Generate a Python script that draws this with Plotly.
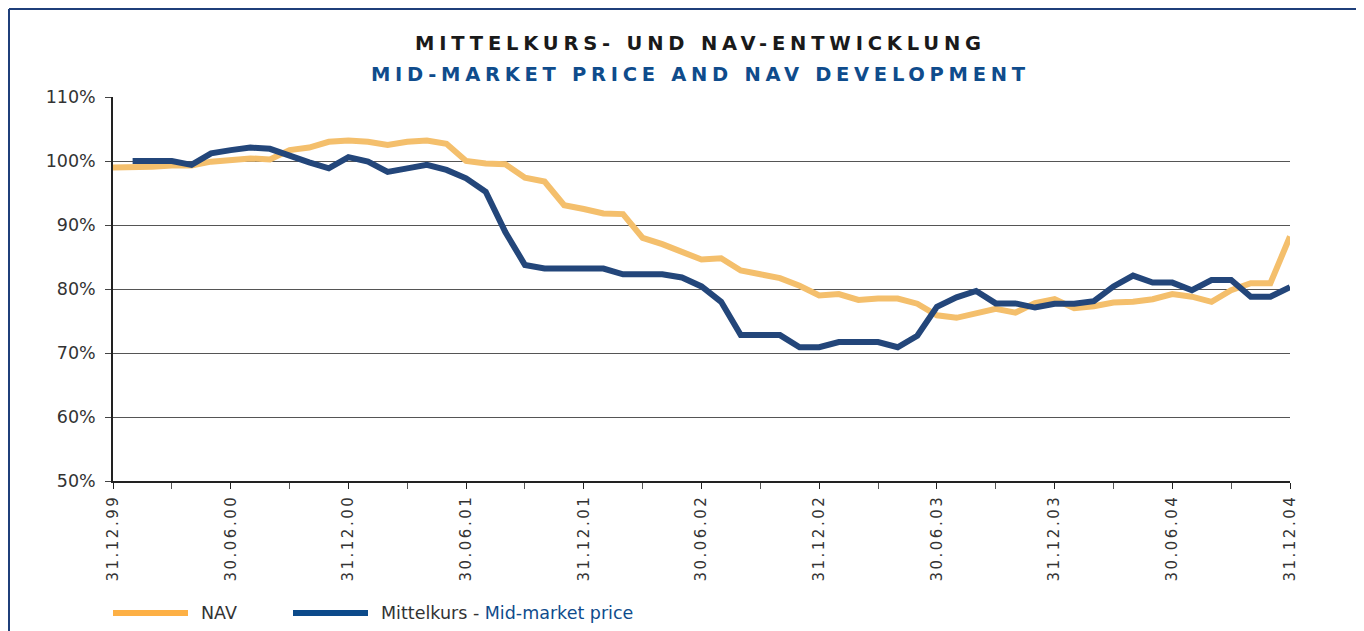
import plotly.graph_objects as go
import pandas as pd

# ---- data (month-end observations, % of start value) ----
month_labels = [d.strftime("%d.%m.%y") for d in pd.date_range("1999-12-31", "2004-12-31", freq="ME")]

nav = [99.0, 99.0, 99.1, 99.3, 99.3, 99.9, 100.2, 100.4, 100.25, 101.7,
       102.1, 103.0, 103.2, 103.0, 102.5, 103.0, 103.2, 102.7, 100.0, 99.6,
       99.5, 97.4, 96.8, 93.1, 92.5, 91.8, 91.7, 88.0, 87.0, 85.9,
       84.6, 84.8, 82.9, 82.3, 81.7, 80.5, 79.0, 79.2, 78.3, 78.5,
       78.5, 77.7, 75.9, 75.5, 76.2, 76.9, 76.3, 77.8, 78.4, 77.0,
       77.3, 77.9, 78.0, 78.4, 79.2, 78.8, 78.0, 79.8, 80.9, 80.9,
       88.2]

mid_price = [None, 100.0, 100.0, 100.0, 99.4, 101.2, 101.7, 102.1, 101.9, 100.8,
             99.8, 98.85, 100.6, 99.9, 98.3, 98.85, 99.4, 98.6, 97.3, 95.2,
             88.9, 83.75, 83.2, 83.2, 83.2, 83.2, 82.3, 82.3, 82.3, 81.8,
             80.4, 78.0, 72.8, 72.8, 72.8, 70.9, 70.9, 71.7, 71.7, 71.7,
             70.9, 72.7, 77.2, 78.7, 79.7, 77.75, 77.75, 77.1, 77.7, 77.7,
             78.1, 80.4, 82.1, 81.0, 81.0, 79.8, 81.4, 81.4, 78.8, 78.8,
             80.3]

y_ticks = [50, 60, 70, 80, 90, 100, 110]
y_tick_labels = ["50%", "60%", "70%", "80%", "90%", "100%", "110%"]

title_de = "MITTELKURS- UND NAV-ENTWICKLUNG"
title_en = "MID-MARKET PRICE AND NAV DEVELOPMENT"

NAV_COLOR = "#F4BF6C"
MID_COLOR = "#23467A"
FRAME_COLOR = "#1F3F7A"
BLUE_TEXT = "#0F4C8C"

x_idx = list(range(len(month_labels)))
major_idx = x_idx[::6]
minor_idx = x_idx[::3]

fig = go.Figure()
fig.add_trace(go.Scatter(x=x_idx, y=nav, mode="lines", name="NAV",
                         line=dict(color=NAV_COLOR, width=6), showlegend=False))
fig.add_trace(go.Scatter(x=x_idx, y=mid_price, mode="lines", name="Mittelkurs - Mid-market price",
                         line=dict(color=MID_COLOR, width=6), showlegend=False))

# page body has an 8px margin: work in screen pixels, convert to figure pixels
OFF = 8
W, H = 1364 - OFF, 631 - OFF
L, R, T, B = 113 - OFF, 1290 - OFF, 97 - OFF, 481 - OFF
pw, ph = R - L, B - T

def px(x):  # screen x -> paper
    return (x - OFF - L) / pw

def py(y):  # screen y -> paper
    return (B - (y - OFF)) / ph

fig.update_layout(
    width=W, height=H,
    margin=dict(l=L, r=W - R, t=T, b=H - B),
    paper_bgcolor="white", plot_bgcolor="white",
    font=dict(family="DejaVu Sans, Verdana, sans-serif", color="#333333"),
    xaxis=dict(
        range=[0, len(month_labels) - 1],
        tickmode="array", tickvals=major_idx,
        ticktext=['<span style="letter-spacing:2.5px">%s</span>' % month_labels[i] for i in major_idx],
        tickangle=-90, tickfont=dict(size=15, color="#333333"),
        ticks="outside", ticklen=6, tickcolor="#222222", tickwidth=1,
        showline=True, linecolor="#222222", linewidth=1.5,
        showgrid=False, zeroline=False,
        minor=dict(tickmode="array", tickvals=minor_idx, ticks="outside",
                   ticklen=6, tickcolor="#555555", tickwidth=1, showgrid=False),
    ),
    yaxis=dict(
        range=[50, 110], tickmode="array", tickvals=y_ticks, ticktext=y_tick_labels,
        tickfont=dict(size=17.5, color="#333333"),
        ticks="outside", ticklen=6, tickcolor="#444444", tickwidth=1,
        ticklabelstandoff=6,
        showline=True, linecolor="#222222", linewidth=1.5,
        showgrid=True, gridcolor="#555555", gridwidth=1.3, zeroline=False,
    ),
)

# titles
fig.add_annotation(x=px(700), y=py(43), xref="paper", yref="paper", showarrow=False,
                   text='<b><span style="letter-spacing:4.8px">%s</span></b>' % title_de,
                   font=dict(size=19.5, color="#1a1a1a", family="DejaVu Sans, Verdana, sans-serif"),
                   xanchor="center", yanchor="middle")
fig.add_annotation(x=px(700), y=py(75), xref="paper", yref="paper", showarrow=False,
                   text='<b><span style="letter-spacing:4.7px">%s</span></b>' % title_en,
                   font=dict(size=19.5, color=BLUE_TEXT, family="DejaVu Sans, Verdana, sans-serif"),
                   xanchor="center", yanchor="middle")

# frame (top and left blue rule)
fig.add_shape(type="line", xref="paper", yref="paper", x0=px(9), x1=px(1370), y0=py(9), y1=py(9),
              line=dict(color=FRAME_COLOR, width=2))
fig.add_shape(type="line", xref="paper", yref="paper", x0=px(9), x1=px(9), y0=py(9), y1=py(640),
              line=dict(color=FRAME_COLOR, width=2))

# legend (drawn manually to match the original layout)
ly = py(613)
fig.add_shape(type="line", xref="paper", yref="paper", x0=px(113), x1=px(188), y0=ly, y1=ly,
              line=dict(color="#FDB045", width=6))
fig.add_annotation(x=px(199), y=ly, xref="paper", yref="paper", showarrow=False,
                   text="NAV", xanchor="left", yanchor="middle",
                   font=dict(size=17.5, color="#333333"))
fig.add_shape(type="line", xref="paper", yref="paper", x0=px(293), x1=px(368), y0=ly, y1=ly,
              line=dict(color="#0C4A8A", width=6))
fig.add_annotation(x=px(379), y=ly, xref="paper", yref="paper", showarrow=False,
                   text='Mittelkurs - <span style="color:%s">Mid-market price</span>' % BLUE_TEXT,
                   xanchor="left", yanchor="middle",
                   font=dict(size=17.5, color="#333333"))

fig.write_html("out.html")
